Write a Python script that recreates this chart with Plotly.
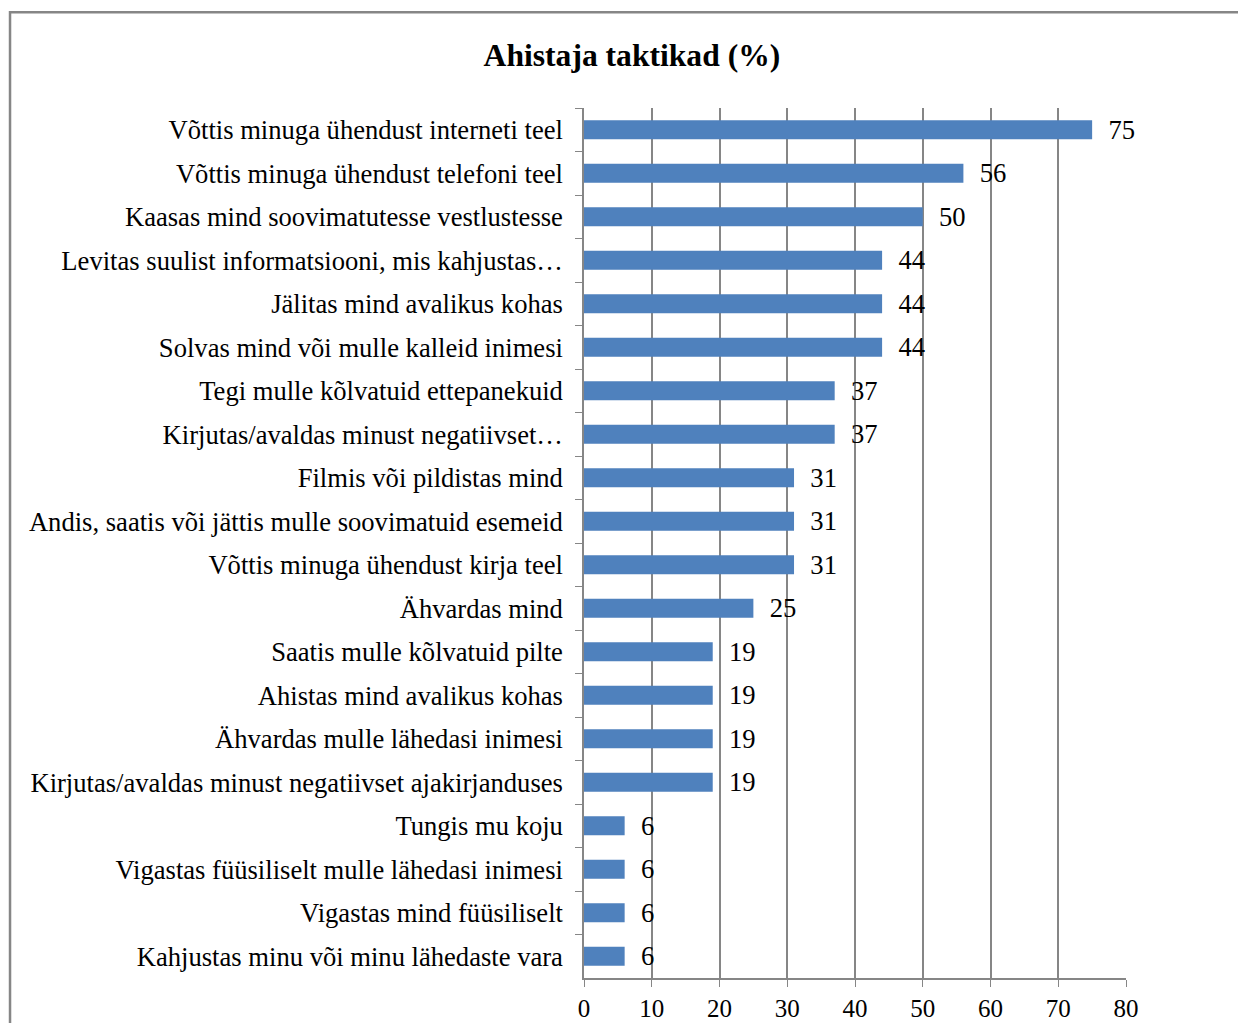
import plotly.graph_objects as go

categories = [
    "Võttis minuga ühendust interneti teel",
    "Võttis minuga ühendust telefoni teel",
    "Kaasas mind soovimatutesse vestlustesse",
    "Levitas suulist informatsiooni, mis kahjustas…",
    "Jälitas mind avalikus kohas",
    "Solvas mind või mulle kalleid inimesi",
    "Tegi mulle kõlvatuid ettepanekuid",
    "Kirjutas/avaldas minust negatiivset…",
    "Filmis või pildistas mind",
    "Andis, saatis või jättis mulle soovimatuid esemeid",
    "Võttis minuga ühendust kirja teel",
    "Ähvardas mind",
    "Saatis mulle kõlvatuid pilte",
    "Ahistas mind avalikus kohas",
    "Ähvardas mulle lähedasi inimesi",
    "Kirjutas/avaldas minust negatiivset ajakirjanduses",
    "Tungis mu koju",
    "Vigastas füüsiliselt mulle lähedasi inimesi",
    "Vigastas mind füüsiliselt",
    "Kahjustas minu või minu lähedaste vara",
]
values = [75, 56, 50, 44, 44, 44, 37, 37, 31, 31, 31, 25, 19, 19, 19, 19, 6, 6, 6, 6]
x_ticks = [0, 10, 20, 30, 40, 50, 60, 70, 80]

FONT = "Liberation Serif"
FS = 26.6

fig = go.Figure(
    go.Bar(
        x=values,
        y=categories,
        orientation="h",
        marker=dict(color="#4F81BD", line=dict(width=0)),
        text=values,
        texttemplate="\u00a0\u00a0%{text}",
        textposition="outside",
        constraintext="none",
        textfont=dict(family=FONT, size=FS, color="#000000"),
        cliponaxis=False,
        width=0.44,
    )
)

fig.update_layout(
    width=1238,
    height=1015,
    margin=dict(l=576, r=120, t=100, b=45, autoexpand=False),
    paper_bgcolor="white",
    plot_bgcolor="white",
    showlegend=False,
    title=dict(
        text="<b>Ahistaja taktikad (%)</b>",
        font=dict(family=FONT, size=31.6, color="#000000"),
        x=0.504,
        xanchor="center",
        y=0.9537,
        yanchor="middle",
    ),
    xaxis=dict(
        range=[0, 80],
        tickvals=x_ticks,
        ticktext=[str(t) for t in x_ticks],
        showgrid=True,
        gridcolor="#868686",
        gridwidth=1.5,
        showline=True,
        linecolor="#868686",
        linewidth=2,
        ticks="outside",
        ticklen=7,
        tickcolor="#868686",
        ticklabelstandoff=0,
        tickfont=dict(family=FONT, size=25, color="#000000"),
        zeroline=False,
        automargin=False,
        fixedrange=True,
    ),
    yaxis=dict(
        autorange="reversed",
        showline=True,
        linecolor="#868686",
        linewidth=1.5,
        ticks="outside",
        tickson="boundaries",
        ticklen=7,
        tickcolor="#868686",
        ticklabelstandoff=14,
        tickfont=dict(family=FONT, size=FS, color="#000000"),
        showgrid=False,
        automargin=False,
        fixedrange=True,
    ),
    shapes=[
        dict(
            type="rect",
            xref="paper",
            yref="paper",
            x0=-1.059,
            x1=1.2196,
            y0=-0.08,
            y1=1.110,
            line=dict(color="#868686", width=2.5),
            fillcolor="rgba(0,0,0,0)",
            layer="below",
        )
    ],
)

fig.write_html("out.html")
